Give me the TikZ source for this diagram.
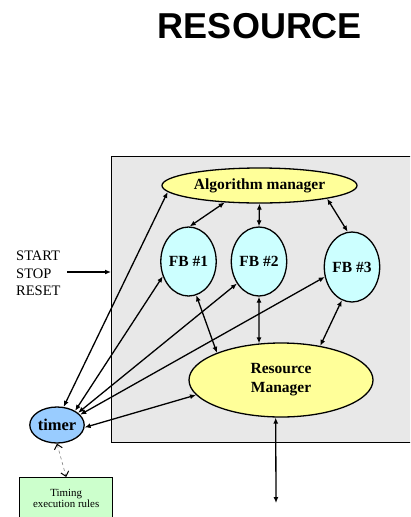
\documentclass[tikz,border=0pt]{standalone}
\usepackage{fontspec}
\setmainfont{Liberation Serif}
\newfontfamily\titlefont{Liberation Sans}
\usetikzlibrary{shapes.geometric,arrows.meta}
\definecolor{panelgray}{HTML}{E8E8E8}
\definecolor{ovyellow}{HTML}{FFFF99}
\definecolor{ovcyan}{HTML}{CCFFFF}
\definecolor{ovblue}{HTML}{99CCFF}
\definecolor{boxgreen}{HTML}{CCFFCC}
\begin{document}
\begin{tikzpicture}[x=1pt,y=-1pt,
  >={Latex[length=6pt,width=5pt]},
  dbl/.style={<->, line width=1.3pt},
  oval/.style={ellipse, draw, line width=1.3pt, inner sep=0pt, align=center,
    font=\bfseries\fontsize{15.5}{19}\selectfont},
  ]
\useasboundingbox (0,0) rectangle (410,517);
\clip (0,0) rectangle (410,517);
\node[font=\titlefont\bfseries\fontsize{36}{40}\selectfont, inner sep=0pt] (title) at (260,26) {RESOURCE};
\node[draw, line width=1.3pt, fill=panelgray, minimum width=309pt, minimum height=286pt,
  inner sep=0pt, anchor=north west] (panel) at (111,156) {};
\node[oval, fill=ovyellow, minimum width=195pt, minimum height=35pt] (alg) at (259.5,185.5) {Algorithm manager};
\node[oval, fill=ovcyan, minimum width=53pt, minimum height=69pt] (fb1) at (188.5,261.5) {FB \#1};
\node[oval, fill=ovcyan, minimum width=52pt, minimum height=69pt] (fb2) at (259,261.5) {FB \#2};
\node[oval, fill=ovcyan, minimum width=54pt, minimum height=70pt] (fb3) at (352,267) {FB \#3};
\node[oval, fill=ovyellow, minimum width=184pt, minimum height=74pt] (rm) at (281,380) {Resource\\Manager};
\node[oval, fill=ovblue, minimum width=42pt, minimum height=36pt, font=\bfseries\fontsize{16.5}{19}\selectfont] (timer) at (57,425) {timer};
\node[draw, line width=1.3pt, fill=boxgreen, minimum width=93pt, minimum height=42pt, inner sep=0pt,
  anchor=north west, align=center, font=\fontsize{10.9}{11.3}\selectfont] (tbox) at (19,477) {Timing\\execution rules};
\node[inner sep=0pt, anchor=west, align=left, font=\fontsize{14.5}{17.7}\selectfont] (ssr) at (16,273.3) {START\\STOP\\RESET};
\coordinate (sin) at (67,272);
\draw[->, line width=1.3pt] (sin) -- (sin -| panel.west);
\draw[dbl] (alg.206) -- (fb1.88);
\draw[dbl] (alg.270) -- (fb2.90);
\draw[dbl] (alg.349) -- (fb3.97);
\draw[dbl] (fb1.283) -- (rm.157);
\draw[dbl] (fb2.270) -- (rm.121);
\draw[dbl] (fb3.253) -- (rm.41);
\draw[dbl] (timer.70) -- (alg.184);
\draw[dbl] (timer.38) -- (fb1.210);
\draw[dbl] (timer.30) -- (fb2.225);
\draw[dbl] (timer.24) -- (fb3.200);
\draw[dbl] (timer.355) -- (rm.190);
\coordinate (rmout) at (276,503);
\draw[dbl] (rm.262) -- (rmout);
\draw[draw=gray, dashed, line width=0.6pt,
  {Straight Barb[color=black,length=4.5pt,width=8pt,line width=1pt]}-{Straight Barb[color=black,length=4.5pt,width=8pt,line width=1pt]}]
  (timer.south) -- (tbox.north);
\end{tikzpicture}
\end{document}
